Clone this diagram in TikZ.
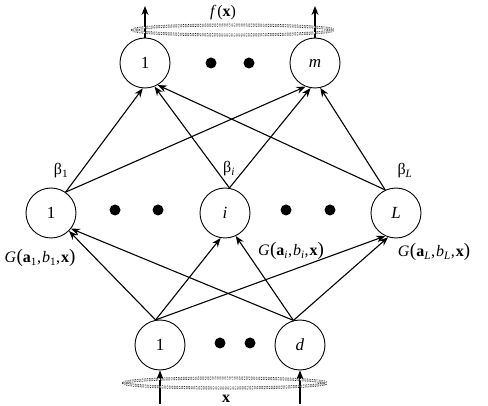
\documentclass[tikz,border=0pt]{standalone}
\usepackage{fontspec}
\setmainfont{Liberation Serif}
\usetikzlibrary{arrows.meta}
\newcommand{\glab}[1]{\textit{G}\kern0.5pt{\fontsize{19}{19}\selectfont(}\textbf{a}\textsubscript{#1},\kern1pt\textit{b}\textsubscript{#1},\kern1pt\textbf{x}{\fontsize{19}{19}\selectfont)}}
\begin{document}
\begin{tikzpicture}[x=1pt,y=-1pt,
  neuron/.style={circle,draw,line width=0.9pt,minimum size=50pt,inner sep=0pt,font=\fontsize{17}{17}\selectfont},
  dotc/.style={circle,fill,minimum size=11pt,inner sep=0pt},
  conn/.style={line width=1.1pt,-{Stealth[length=9pt,width=7pt]}},
  lbl/.style={font=\fontsize{16}{16}\selectfont,inner sep=0pt},
  ring/.style={densely dotted,line width=0.7pt,double distance=1.5pt}]
\useasboundingbox (0,0) rectangle (488,406);
% output layer
\node[neuron] (o1) at (145,63) {1};
\node[neuron] (om) at (315,63) {\textit{m}};
\node[dotc] (od1) at (211,63) {};
\node[dotc] (od2) at (249,63) {};
% hidden layer
\node[neuron] (h1) at (51,213) {1};
\node[neuron] (hi) at (225,213) {\textit{i}};
\node[neuron] (hL) at (396,213) {\textit{L}};
\node[dotc] (hd1) at (115,210) {};
\node[dotc] (hd2) at (158,210) {};
\node[dotc] (hd3) at (286,210) {};
\node[dotc] (hd4) at (330,210) {};
% input layer
\node[neuron] (i1) at (160,345) {1};
\node[neuron] (id) at (300,345) {\textit{d}};
\node[dotc] (id1) at (220,343) {};
\node[dotc] (id2) at (250,343) {};
% hidden -> output
\draw[conn] (h1.55) -- (o1.-95);
\draw[conn] (h1.55) -- (om.-112);
\draw[conn] (hi.80) -- (o1.-68);
\draw[conn] (hi.80) -- (om.-100);
\draw[conn] (hL.115) -- (o1.-60);
\draw[conn] (hL.115) -- (om.-78);
% input -> hidden
\draw[conn] (i1.100) -- (h1.-45);
\draw[conn] (i1.100) -- (hi.-100);
\draw[conn] (i1.100) -- (hL.-115);
\draw[conn] (id.105) -- (h1.-38);
\draw[conn] (id.105) -- (hi.-65);
\draw[conn] (id.105) -- (hL.-108);
% output arrows and ring
\coordinate (t1) at (145,6);
\coordinate (tm) at (315,6);
\draw[conn] (o1.north) -- (t1);
\draw[conn] (om.north) -- (tm);
\draw[ring] (233,30) ellipse (100pt and 5pt);
\node[lbl] (fx) at (223,13) {\textit{f}\kern1pt(\textbf{x})};
% input arrows and ring
\coordinate (b1) at (160,404);
\coordinate (bd) at (300,404);
\draw[conn] (b1) -- (i1.south);
\draw[conn] (bd) -- (id.south);
\draw[ring] (225,383) ellipse (101pt and 5pt);
\node[lbl] (xl) at (226,399) {\textbf{x}};
% labels
\node[lbl] (beta1) at (61,171) {β\textsubscript{1}};
\node[lbl] (betai) at (229,169) {β\textsubscript{\textit{i}}};
\node[lbl] (betaL) at (405,171) {β\textsubscript{\textit{L}}};
\node[lbl] (g1) at (40,258) {\glab{1}};
\node[lbl] (gi) at (291,251) {\glab{\textit{i}}};
\node[lbl] (gL) at (434,252) {\glab{\textit{L}}};
\end{tikzpicture}
\end{document}
